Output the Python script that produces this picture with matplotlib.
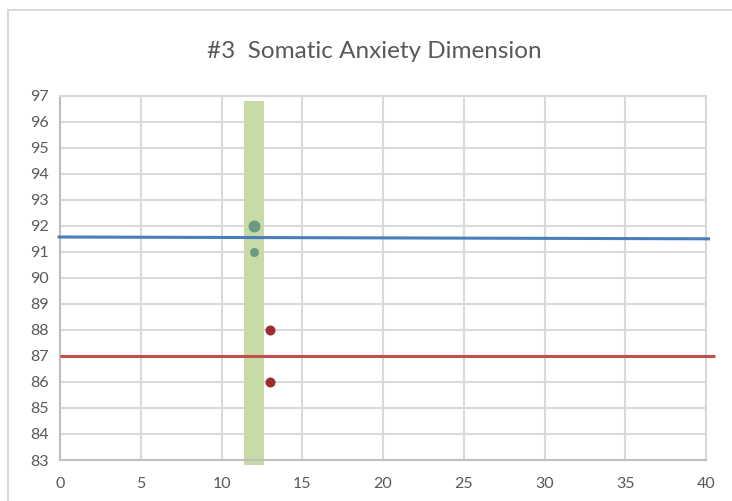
import matplotlib
matplotlib.use("Agg")
import matplotlib.pyplot as plt
from matplotlib.patches import Rectangle
from matplotlib.lines import Line2D

# Data
title = "#3  Somatic Anxiety Dimension"
x_ticks = [0, 5, 10, 15, 20, 25, 30, 35, 40]
y_ticks = list(range(83, 98))

green_x = [12, 12]
green_y = [92, 91]
green_sizes = [12, 9]          # marker diameters (px)

red_x = [13, 13]
red_y = [88, 86]

blue_line_x = [-0.15, 40.25]
blue_line_y = [91.57, 91.50]

red_line_x = [0, 40.55]
red_line_y = [87.0, 87.0]

band_x = [11.39, 12.63]
band_y = [82.8, 96.8]

plt.rcParams['font.family'] = ['Lato', 'DejaVu Sans']

fig = plt.figure(figsize=(7.32, 5.01), dpi=100)
ax = fig.add_axes([60/732, 1-460/501, 646/732, (460-95.7)/501])

ax.set_xlim(0, 40)
ax.set_ylim(83, 97)
ax.set_xticks(x_ticks)
ax.set_yticks(y_ticks)

grid_c = '#d9d9d9'
ax.grid(True, color=grid_c, linewidth=1.5, zorder=0)
ax.set_axisbelow(True)
for s in ['top', 'right']:
    ax.spines[s].set_color(grid_c)
    ax.spines[s].set_linewidth(1.5)
for s in ['left', 'bottom']:
    ax.spines[s].set_color('#bfbfbf')
    ax.spines[s].set_linewidth(1.5)
ax.tick_params(length=0, labelsize=11.5, colors='#595959', pad=8)
ax.tick_params(axis='x', pad=12)

# green band
ax.add_patch(Rectangle((band_x[0], band_y[0]), band_x[1]-band_x[0], band_y[1]-band_y[0],
                       facecolor='#c8dba6', edgecolor='none', zorder=2, clip_on=False))

ax.plot(blue_line_x, blue_line_y, color='#4a7ebb', linewidth=2.2, zorder=3, clip_on=False,
        solid_capstyle='butt')
ax.plot(red_line_x, red_line_y, color='#c0504d', linewidth=2.2, zorder=3, clip_on=False,
        solid_capstyle='butt')

for xv, yv, ms in zip(green_x, green_y, green_sizes):
    ax.plot([xv], [yv], 'o', color='#6a9a84', markersize=ms*0.72, markeredgewidth=0, zorder=4)
ax.plot(red_x, red_y, 'o', color='#9b2d2d', markersize=7.2, markeredgewidth=0, zorder=4, linestyle='none')

fig.text(0.512, 1-58.5/501, title, ha='center', va='baseline', fontsize=17.5, color='#595959')

# chart border
fig.add_artist(Line2D([8/732, 1], [1-9.5/501]*2, color='#d9d9d9', linewidth=1.5, transform=fig.transFigure))
fig.add_artist(Line2D([8/732]*2, [0, 1-9.5/501], color='#d9d9d9', linewidth=1.5, transform=fig.transFigure))

fig.savefig('out.png', dpi=100)
